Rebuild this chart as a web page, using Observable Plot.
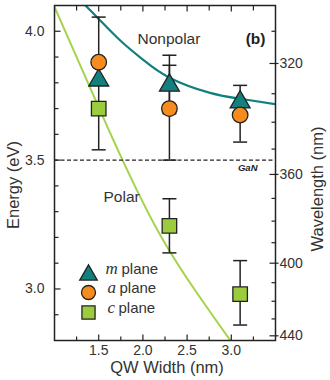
<!DOCTYPE html>
<html><head><meta charset="utf-8">
<script src="https://cdn.jsdelivr.net/npm/d3@7"></script>
<script src="https://cdn.jsdelivr.net/npm/@observablehq/plot@0.6"></script>
<style>body{margin:0;background:#fff}#chart{width:330px;height:380px}</style>
</head><body><div id="chart"></div>
<script>
// ---- data ----
const widths = [1.5, 2.3, 3.1];
const mPlane = [3.81, 3.79, 3.725];
const aPlane = [3.88, 3.70, 3.675];
const cPlane = [3.70, 3.245, 2.98];
const errX    = [1.5,  2.3,   2.3,   3.1,  2.3,  3.1];
const errLow  = [3.54, 3.68,  3.50,  3.57, 3.14, 2.86];
const errHigh = [4.055,3.907, 3.868, 3.79, 3.35, 3.11];
const nonpolarW = [1.30, 1.35, 1.5, 1.75, 2.0, 2.3, 2.75, 3.1, 3.5];
const nonpolarE = [4.117, 4.10, 4.048, 3.962, 3.89, 3.82, 3.762, 3.738, 3.717];
const polarW = [0.98, 1.32, 1.52, 1.77, 2.17, 2.60, 2.99, 3.05];
const polarE = [4.11, 3.845, 3.69, 3.50, 3.225, 2.99, 2.80, 2.772];
const gapGaN = 3.5;
const xMajor = [1.5, 2.0, 2.5, 3.0];
const xMinor = [1.25, 1.75, 2.25, 2.75, 3.25];
const yMajor = [3.0, 3.5, 4.0];
const yMinor = [2.9, 3.1, 3.2, 3.3, 3.4, 3.6, 3.7, 3.8, 3.9];
const wlMajor = [320, 360, 400, 440];
const wlMinor = [310, 330, 340, 350, 370, 380, 390, 410, 420, 430];
const legendLetters = ["m", "a", "c"];
const legendWord = "plane";

// ---- style ----
const teal = "#11807f", orange = "#f78c1e", lime = "#9dcb3e", limeLine = "#a6d24c", ink = "#222", label = "#333";
const sans = "'Liberation Sans', Arial, sans-serif";
const serif = "'Liberation Serif', 'Times New Roman', serif";
const seg = (x1, y1, x2, y2) => ({draw(ctx) { ctx.moveTo(x1, y1); ctx.lineTo(x2, y2); }});
const tickOpts = {fill: "none", stroke: ink, strokeWidth: 1.2};
const idx = widths.map((_, i) => i);
const eIdx = errX.map((_, i) => i);

const legendSymbols = ["triangle", "circle", "square"];
const legendFills = [teal, orange, lime];
const legendR = [6.5, 7, 7.4];
const legendDy = [-67, -48, -28];
const legendSymDy = [-65.5, -48, -28];
const letterDx = [51, 53, 53];
const wordDx = [67, 65, 64];

const legendMarks = [];
legendLetters.forEach((L, i) => {
  legendMarks.push(Plot.dot([0], {frameAnchor: "bottom-left", dx: 34, dy: legendSymDy[i], symbol: legendSymbols[i], r: legendR[i], fill: legendFills[i], stroke: ink, strokeWidth: 1.3}));
  legendMarks.push(Plot.text([L], {text: d => d, frameAnchor: "bottom-left", dx: letterDx[i], dy: legendDy[i], textAnchor: "start", fontStyle: "italic", fontFamily: serif, fontSize: 17, fill: label}));
  legendMarks.push(Plot.text([legendWord], {text: d => d, frameAnchor: "bottom-left", dx: wordDx[i], dy: legendDy[i], textAnchor: "start", fontSize: 15, fill: label}));
});

const chart = Plot.plot({
  width: 330, height: 380,
  marginLeft: 54, marginRight: 55, marginTop: 5, marginBottom: 40,
  style: {fontFamily: sans, fontSize: "14px", color: label, background: "#fff"},
  x: {domain: [1.0, 3.5]},
  y: {domain: [2.8, 4.1]},
  marks: [
    Plot.line(polarW, {x: d => d, y: (d, i) => polarE[i], curve: "natural", stroke: limeLine, strokeWidth: 2, clip: true}),
    Plot.line(nonpolarW, {x: d => d, y: (d, i) => nonpolarE[i], curve: "natural", stroke: teal, strokeWidth: 2.2, clip: true}),
    Plot.ruleY([gapGaN], {stroke: ink, strokeWidth: 1.2, strokeDasharray: "4,2.5"}),
    Plot.ruleX(eIdx, {x: i => errX[i], y1: i => errLow[i], y2: i => errHigh[i], stroke: ink, strokeWidth: 1.5}),
    Plot.dot(eIdx, {x: i => errX[i], y: i => errHigh[i], symbol: seg(-7, 0, 7, 0), fill: "none", stroke: ink, strokeWidth: 1.5}),
    Plot.dot(eIdx, {x: i => errX[i], y: i => errLow[i], symbol: seg(-7, 0, 7, 0), fill: "none", stroke: ink, strokeWidth: 1.5}),
    Plot.dot(idx, {x: i => widths[i], y: i => cPlane[i], symbol: "square", r: 8.2, fill: lime, stroke: ink, strokeWidth: 1.3}),
    Plot.dot(idx, {x: i => widths[i], y: i => mPlane[i], symbol: "triangle", r: 7.4, fill: teal, stroke: ink, strokeWidth: 1.3}),
    Plot.dot(idx, {x: i => widths[i], y: i => aPlane[i], symbol: "circle", r: 7.8, fill: orange, stroke: ink, strokeWidth: 1.3}),
    // ticks (inward)
    Plot.dot(yMajor, {y: d => d, frameAnchor: "left", symbol: seg(0, 0, 6, 0), ...tickOpts}),
    Plot.dot(yMinor, {y: d => d, frameAnchor: "left", symbol: seg(0, 0, 4, 0), ...tickOpts}),
    Plot.dot(xMajor, {x: d => d, frameAnchor: "bottom", symbol: seg(0, 0, 0, -6), ...tickOpts}),
    Plot.dot(xMinor, {x: d => d, frameAnchor: "bottom", symbol: seg(0, 0, 0, -4), ...tickOpts}),
    Plot.dot(xMajor, {x: d => d, frameAnchor: "top", symbol: seg(0, 0, 0, 6), ...tickOpts}),
    Plot.dot(xMinor, {x: d => d, frameAnchor: "top", symbol: seg(0, 0, 0, 5), ...tickOpts}),
    Plot.dot(wlMajor, {y: l => 1240 / l, frameAnchor: "right", symbol: seg(3, 0, -6, 0), ...tickOpts}),
    Plot.dot(wlMinor, {y: l => 1240 / l, frameAnchor: "right", symbol: seg(0, 0, -4, 0), ...tickOpts}),
    // tick labels
    Plot.axisX({anchor: "bottom", ticks: xMajor, tickSize: 0, tickPadding: 5, tickFormat: d3.format(".1f"), label: null, fontSize: 14, fill: label}),
    Plot.axisY({anchor: "left", ticks: yMajor, tickSize: 0, tickPadding: 10, tickFormat: d3.format(".1f"), label: null, fontSize: 14, fill: label}),
    Plot.axisY({anchor: "right", ticks: wlMajor.map(l => 1240 / l), tickSize: 0, tickPadding: 4, tickFormat: d => String(Math.round(1240 / d)), label: null, fontSize: 14, fill: label}),
    // axis titles
    Plot.text(["QW Width (nm)"], {text: d => d, frameAnchor: "bottom", dx: 2, dy: 32, fontSize: 16.5, fill: label}),
    Plot.text(["Energy (eV)"], {text: d => d, frameAnchor: "left", textAnchor: "middle", dx: -41, dy: 12, rotate: -90, fontSize: 16.5, fill: label}),
    Plot.text(["Wavelength (nm)"], {text: d => d, frameAnchor: "right", textAnchor: "middle", dx: 42, dy: 16, rotate: -90, fontSize: 16.5, fill: label}),
    // annotations
    Plot.text(["Nonpolar"], {text: d => d, frameAnchor: "top-left", dx: 83, dy: 27, textAnchor: "start", fontSize: 15.5, fill: label}),
    Plot.text(["Polar"], {text: d => d, frameAnchor: "top-left", dx: 49, dy: 185, textAnchor: "start", fontSize: 15.5, fill: label}),
    Plot.text(["(b)"], {text: d => d, frameAnchor: "top-right", dx: -10, dy: 27, textAnchor: "end", fontSize: 15.5, fontWeight: "bold", fill: ink}),
    Plot.text(["GaN"], {y: [gapGaN], text: d => d, frameAnchor: "right", dx: -18, dy: 8, textAnchor: "end", fontSize: 9.5, fontWeight: "bold", fontStyle: "italic", fill: ink}),
    ...legendMarks,
    Plot.frame({stroke: ink, strokeWidth: 1.5})
  ]
});
document.getElementById("chart").appendChild(chart);
</script></body></html>
